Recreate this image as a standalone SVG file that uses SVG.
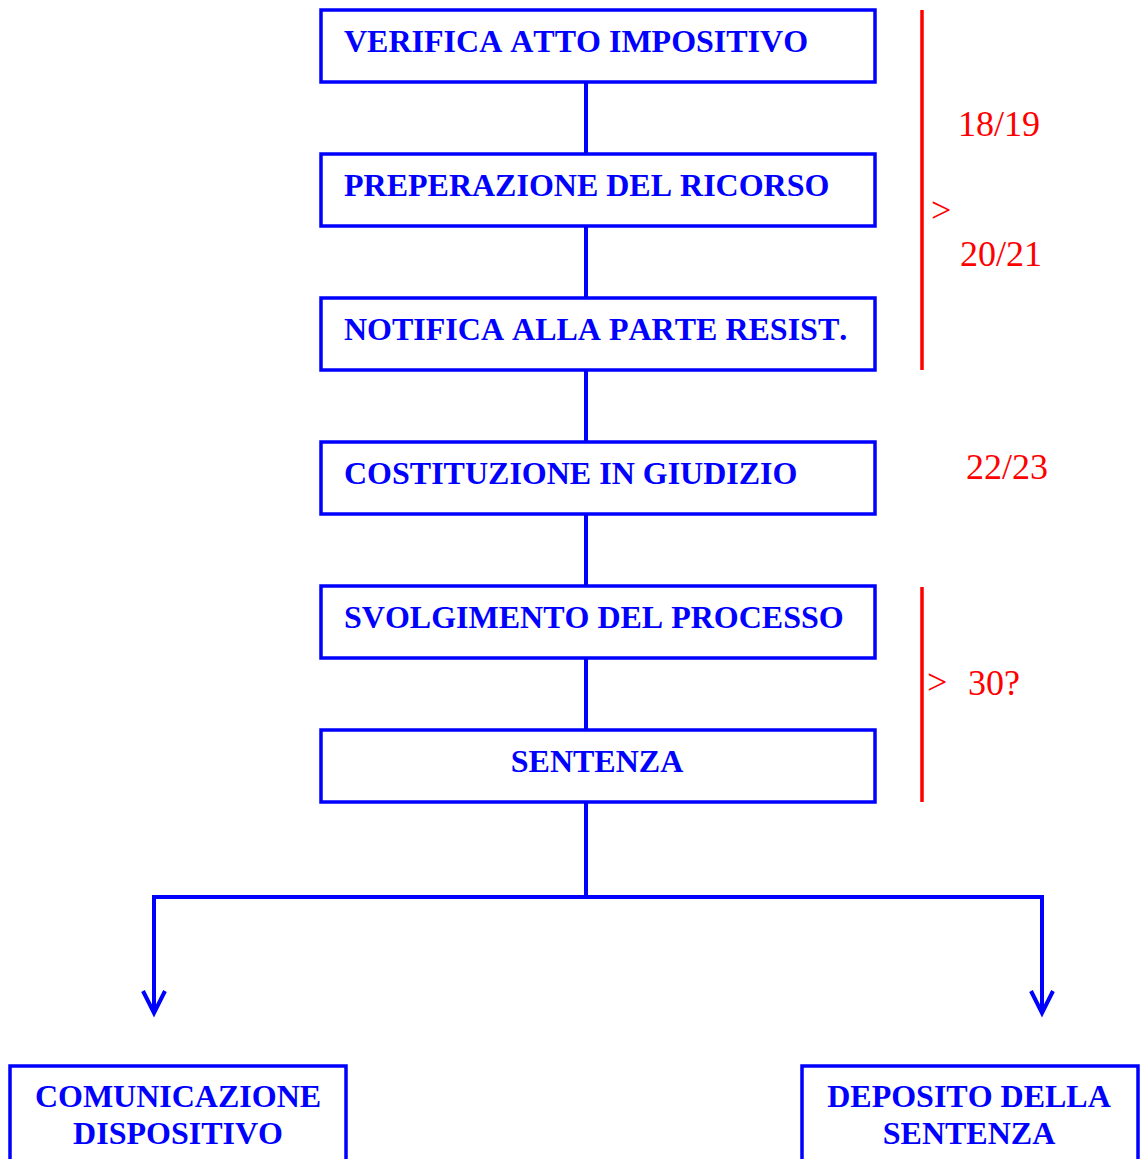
<svg xmlns="http://www.w3.org/2000/svg" width="1140" height="1159" viewBox="0 0 1140 1159">
  <style>
    .box { fill: #ffffff; stroke: #0000ff; stroke-width: 3.5; }
    .lbl { font-family: "Liberation Serif", "Times New Roman", serif; font-weight: bold; font-size: 32px; fill: #0000ff; font-kerning: none; }
    .wire { fill: none; stroke: #0000ff; stroke-width: 4; }
    .note { font-family: "Liberation Serif", "Times New Roman", serif; font-size: 36px; fill: #ff0000; }
    .brace { stroke: #ff0000; stroke-width: 3.5; }
  </style>
  <defs>
    <!-- open V arrowhead, drawn pointing along +x so orient="auto" follows the line -->
    <marker id="open-arrow" markerUnits="userSpaceOnUse" markerWidth="30" markerHeight="30" refX="25" refY="15" orient="auto" viewBox="0 0 30 30">
      <path d="M3 4 L25 15 L3 26" fill="none" stroke="#0000ff" stroke-width="4"/>
    </marker>
  </defs>
  <rect width="1140" height="1159" fill="#ffffff"/>

  <!-- connectors -->
  <g id="connectors">
    <line class="wire" x1="586" y1="82" x2="586" y2="154"/>
    <line class="wire" x1="586" y1="226" x2="586" y2="298"/>
    <line class="wire" x1="586" y1="370" x2="586" y2="442"/>
    <line class="wire" x1="586" y1="514" x2="586" y2="586"/>
    <line class="wire" x1="586" y1="658" x2="586" y2="730"/>
    <line class="wire" x1="586" y1="802" x2="586" y2="897"/>
    <polyline class="wire" points="586,897 154,897 154,1013" marker-end="url(#open-arrow)"/>
    <polyline class="wire" points="586,897 1042,897 1042,1013" marker-end="url(#open-arrow)"/>
  </g>

  <!-- steps -->
  <g id="verifica">
    <rect class="box" x="321" y="10" width="554" height="72"/>
    <text class="lbl" x="344" y="52">VERIFICA ATTO IMPOSITIVO</text>
  </g>
  <g id="preparazione">
    <rect class="box" x="321" y="154" width="554" height="72"/>
    <text class="lbl" x="344" y="196">PREPERAZIONE DEL RICORSO</text>
  </g>
  <g id="notifica">
    <rect class="box" x="321" y="298" width="554" height="72"/>
    <text class="lbl" x="344" y="340">NOTIFICA ALLA PARTE RESIST.</text>
  </g>
  <g id="costituzione">
    <rect class="box" x="321" y="442" width="554" height="72"/>
    <text class="lbl" x="344" y="484">COSTITUZIONE IN GIUDIZIO</text>
  </g>
  <g id="svolgimento">
    <rect class="box" x="321" y="586" width="554" height="72"/>
    <text class="lbl" x="344" y="628">SVOLGIMENTO DEL PROCESSO</text>
  </g>
  <g id="sentenza">
    <rect class="box" x="321" y="730" width="554" height="72"/>
    <text class="lbl" x="597" y="772" text-anchor="middle">SENTENZA</text>
  </g>
  <g id="comunicazione">
    <rect class="box" x="10" y="1066" width="336" height="110"/>
    <text class="lbl" x="178" y="1107" text-anchor="middle">COMUNICAZIONE</text>
    <text class="lbl" x="178" y="1144" text-anchor="middle">DISPOSITIVO</text>
  </g>
  <g id="deposito">
    <rect class="box" x="802" y="1066" width="336" height="110"/>
    <text class="lbl" x="969" y="1107" text-anchor="middle">DEPOSITO DELLA</text>
    <text class="lbl" x="969" y="1144" text-anchor="middle">SENTENZA</text>
  </g>

  <!-- timing notes -->
  <g id="notes">
    <line class="brace" x1="922" y1="10" x2="922" y2="370"/>
    <text class="note" x="958" y="136">18/19</text>
    <text class="note" x="931" y="222" font-size="32">&gt;</text>
    <text class="note" x="960" y="266">20/21</text>
    <text class="note" x="966" y="479">22/23</text>
    <line class="brace" x1="922" y1="587" x2="922" y2="802"/>
    <text class="note" x="927" y="694" font-size="32">&gt;</text>
    <text class="note" x="968" y="695">30?</text>
  </g>
</svg>
